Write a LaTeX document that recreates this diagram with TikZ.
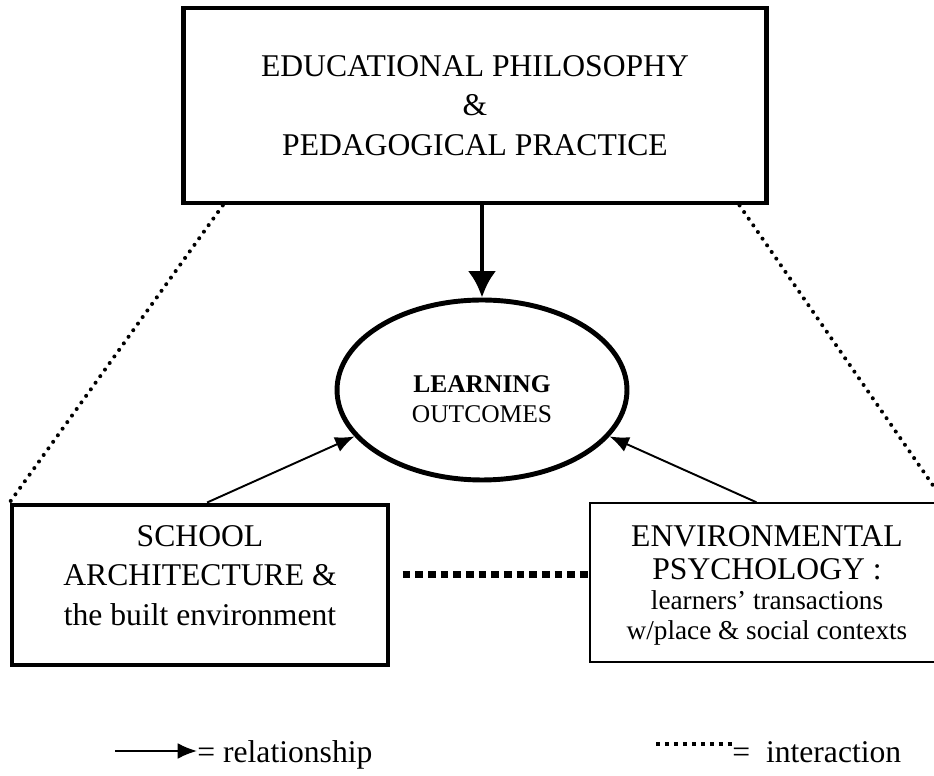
\documentclass[tikz,border=0pt]{standalone}
\usepackage{fontspec}
\setmainfont{Liberation Serif}
\usetikzlibrary{shapes.geometric,arrows.meta}
\tikzset{heavybox/.style={draw,line width=2.8pt,align=center,inner sep=0pt,font=\fontsize{18}{22.5}\selectfont},
lightbox/.style={draw,line width=0.8pt,align=center,inner sep=0pt,font=\fontsize{18}{19}\selectfont},
outcome/.style={draw,ellipse,line width=2.8pt,align=center,inner sep=0pt,font=\fontsize{14.5}{17}\selectfont},
relarrow/.style={line width=1.1pt,-{Latex[length=11pt,width=9pt]}},
bigarrow/.style={line width=2.8pt,-{Latex[length=15pt,width=16pt]}},
linkdots/.style={line width=2.3pt,line cap=round,dash pattern=on 0pt off 4.6pt},
interact/.style={line width=4.4pt,dash pattern=on 4.4pt off 2.8pt},
keydots/.style={line width=2.6pt,dash pattern=on 2.2pt off 2.9pt}}

\begin{document}
\begin{tikzpicture}[x=0.02cm,y=-0.02cm]
\clip (0,0) rectangle (934,776);

% main blocks
\node[heavybox,minimum width=11.68cm,minimum height=3.9cm] (philo) at (475,105.5)
  {EDUCATIONAL PHILOSOPHY\\ \&\\ PEDAGOGICAL PRACTICE};
\node[outcome,minimum width=5.8cm,minimum height=3.6cm,text height=37pt] (learn) at (482,390)
  {\textbf{LEARNING}\\OUTCOMES};
\node[heavybox,minimum width=7.52cm,minimum height=3.2cm,text depth=11pt] (school) at (200,585)
  {SCHOOL\\ARCHITECTURE \&\\the built environment};
\node[lightbox,minimum width=7.08cm,minimum height=3.18cm,text depth=-1pt] (psych) at (767,582.5)
  {ENVIRONMENTAL\\PSYCHOLOGY :\\[-2pt]{\fontsize{15.5}{16}\selectfont learners' transactions}\\[-2pt]{\fontsize{15.5}{16}\selectfont w/place \& social contexts}};

% connectors
\draw[bigarrow] (philo.south -| learn.north) -- (learn.north);
\draw[relarrow] ([xshift=4pt]school.north) -- (learn.200);
\draw[relarrow] ([xshift=-6pt]psych.north) -- (learn.340);
\draw[linkdots] ([xshift=24pt]philo.south west) -- (school.north west);
\draw[linkdots] ([xshift=-17pt]philo.south east) -- (psych.north east);
\draw[interact] ([xshift=7pt,yshift=6pt]school.east) -- ([yshift=6pt]school.east -| psych.west);

% key
\coordinate (relkey) at (115,751);
\node[anchor=base west,font=\fontsize{18}{20}\selectfont,inner sep=0pt] (reltxt) at (197,763) {= relationship};
\draw[relarrow] (relkey) -- (reltxt.west |- relkey);
\coordinate (intkey) at (656,744);
\node[anchor=base west,font=\fontsize{18}{20}\selectfont,inner sep=0pt] (inttxt) at (732,763) {=\ \ interaction};
\draw[keydots] (intkey) -- (inttxt.west |- intkey);
\end{tikzpicture}
\end{document}
